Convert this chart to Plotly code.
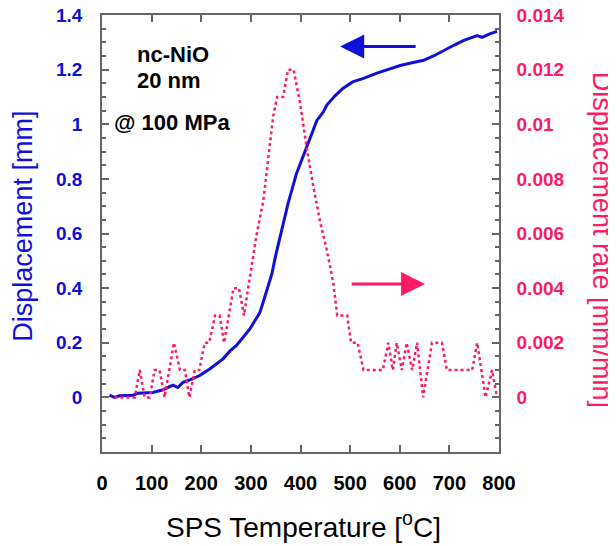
import plotly.graph_objects as go

# Displacement (left axis, mm)
disp_T = [15, 25, 35, 50, 62, 72, 90, 103, 123, 143, 153, 163, 177, 197, 217, 244, 258, 271,
          298, 318, 325, 332, 342, 350, 359, 375, 392, 412, 433, 446, 453, 470, 486, 505,
          527, 554, 575, 601, 625, 648, 668, 688, 710, 729, 745, 756, 766, 780, 796]
disp_mm = [0.008, 0.0, 0.006, 0.008, 0.008, 0.015, 0.018, 0.018, 0.028, 0.045, 0.036, 0.055,
           0.064, 0.08, 0.104, 0.141, 0.17, 0.19, 0.251, 0.31, 0.35, 0.39, 0.45, 0.52, 0.59,
           0.71, 0.82, 0.916, 1.014, 1.045, 1.07, 1.105, 1.132, 1.155, 1.168, 1.187, 1.2,
           1.215, 1.225, 1.234, 1.25, 1.27, 1.29, 1.307, 1.318, 1.325, 1.318, 1.33, 1.34]

# Displacement rate (right axis, mm/min)
rate_T = [25, 35, 45, 55, 66, 76, 86, 96, 106, 116, 126, 145, 157, 167, 176, 187, 196, 207,
          216, 228, 237, 246, 265, 276, 286, 298, 311, 325, 335, 345, 353, 365, 375, 386,
          399, 412, 425, 440, 453, 466, 474, 494, 502, 515, 527, 566, 577, 586, 594, 604,
          614, 625, 635, 647, 665, 685, 695, 746, 756, 773, 786, 796]
rate = [0, 0, 0, 0, 0, 0.001, 0, 0, 0.001, 0.001, 0, 0.002, 0.001, 0.001, 0, 0.001, 0.001,
        0.002, 0.002, 0.003, 0.003, 0.002, 0.004, 0.004, 0.003, 0.0044, 0.0059, 0.0072,
        0.0087, 0.0103, 0.011, 0.011, 0.012, 0.012, 0.0108, 0.0092, 0.0078, 0.0064, 0.0054,
        0.0042, 0.003, 0.003, 0.002, 0.002, 0.001, 0.001, 0.002, 0.001, 0.002, 0.001, 0.002,
        0.001, 0.002, 0, 0.002, 0.002, 0.001, 0.001, 0.002, 0, 0.001, 0]

x_ticks = [0, 100, 200, 300, 400, 500, 600, 700, 800]
y1_ticks = [0, 0.2, 0.4, 0.6, 0.8, 1.0, 1.2, 1.4]
y1_text = ["0", "0.2", "0.4", "0.6", "0.8", "1", "1.2", "1.4"]
y2_ticks = [0, 0.002, 0.004, 0.006, 0.008, 0.01, 0.012, 0.014]
y2_text = ["0", "0.002", "0.004", "0.006", "0.008", "0.01", "0.012", "0.014"]

BLUE = "#1010d8"
PINK = "#ff1a66"
AXC = "#666666"
FONT = "Arial, Liberation Sans, sans-serif"

fig = go.Figure()
fig.add_trace(go.Scatter(x=rate_T, y=rate, yaxis="y2", mode="lines",
                         line=dict(color=PINK, width=2.5, dash="dot"), showlegend=False))
fig.add_trace(go.Scatter(x=disp_T, y=disp_mm, mode="lines",
                         line=dict(color=BLUE, width=3), showlegend=False))

axis_common = dict(showline=True, linecolor=AXC, linewidth=1.5, ticks="inside",
                   tickcolor=AXC, tickwidth=1.5, showgrid=False, zeroline=False,
                   automargin=False, ticklabeloverflow="allow")

# page body adds an 8px offset, so the figure is 8px smaller and margins compensate
fig.update_layout(
    width=608, height=538,
    margin=dict(l=94, r=117, t=7, b=94),
    paper_bgcolor="white", plot_bgcolor="white",
    font=dict(family=FONT),
    xaxis=dict(range=[0, 800], tickvals=x_ticks, ticklen=7, mirror="ticks",
               tickfont=dict(size=20, color="black", family=FONT, weight="bold"),
               ticklabelstandoff=12, **axis_common),
    yaxis=dict(range=[-0.2, 1.4], tickvals=y1_ticks, ticktext=y1_text, ticklen=7,
               minor=dict(dtick=0.05, tick0=0, ticks="inside", ticklen=4, tickcolor=AXC),
               tickfont=dict(size=19, color=BLUE, family=FONT, weight="bold"),
               ticklabelstandoff=14, **axis_common),
    yaxis2=dict(range=[-0.002, 0.014], tickvals=y2_ticks, ticktext=y2_text, ticklen=7,
                overlaying="y", side="right",
                minor=dict(dtick=0.0005, tick0=0, ticks="inside", ticklen=4, tickcolor=AXC),
                tickfont=dict(size=19, color=PINK, family=FONT, weight="bold"),
                ticklabelstandoff=12, **axis_common),
)

ann = []
# axis titles
ann.append(dict(text="Displacement [mm]", xref="paper", yref="paper", x=-0.2, y=0.517,
                xanchor="center", yanchor="middle",
                textangle=-90, showarrow=False, font=dict(size=27, color=BLUE, family=FONT)))
ann.append(dict(text="Displacement rate [mm/min]", xref="paper", yref="paper", x=1.26, y=0.485,
                xanchor="center", yanchor="middle",
                textangle=90, showarrow=False, font=dict(size=27, color=PINK, family=FONT)))
ann.append(dict(text="SPS Temperature [<sup>o</sup>C]", xref="paper", yref="paper", x=0.508,
                y=-0.167, xanchor="center", yanchor="middle", showarrow=False,
                font=dict(size=28, color="black", family=FONT)))
# labels
for txt, x, y in [("nc-NiO", 0.082, 0.910), ("20 nm", 0.082, 0.851), ("@ 100 MPa", 0.024, 0.755)]:
    ann.append(dict(text=txt, xref="paper", yref="paper", x=x, y=y, xanchor="left",
                    yanchor="middle", showarrow=False,
                    font=dict(size=22, color="black", family=FONT, weight="bold")))
# arrows
ann.append(dict(x=480, y=1.285, ax=635, ay=1.285, xref="x", yref="y", axref="x", ayref="y",
                text="", showarrow=True, arrowhead=2, arrowsize=1.6, arrowwidth=3,
                arrowcolor=BLUE))
ann.append(dict(x=651, y=0.00415, ax=500, ay=0.00415, xref="x", yref="y2", axref="x",
                ayref="y2", text="", showarrow=True, arrowhead=2, arrowsize=1.6,
                arrowwidth=3, arrowcolor=PINK))
fig.update_layout(annotations=ann)

fig.write_html("out.html")
